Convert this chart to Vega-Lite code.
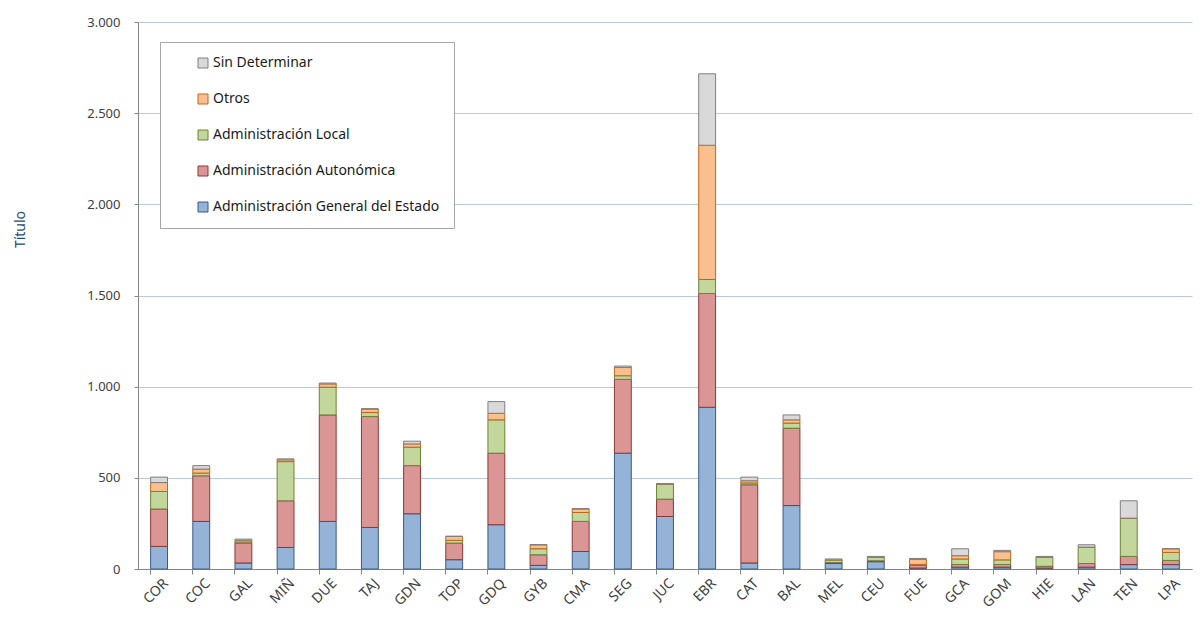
{
  "$schema": "https://vega.github.io/schema/vega-lite/v6.json",
  "autosize": {"type": "none"},
  "padding": {"left": 138, "top": 22, "right": 9, "bottom": 57},
  "width": 1054,
  "height": 547,
  "background": "white",
  "data": {"values": [
    {"c": "COR", "Administración General del Estado": 124, "Administración Autonómica": 205, "Administración Local": 96, "Otros": 49, "Sin Determinar": 30},
    {"c": "COC", "Administración General del Estado": 261, "Administración Autonómica": 250, "Administración Local": 15, "Otros": 22, "Sin Determinar": 19},
    {"c": "GAL", "Administración General del Estado": 33, "Administración Autonómica": 109, "Administración Local": 6, "Otros": 9, "Sin Determinar": 7},
    {"c": "MIÑ", "Administración General del Estado": 118, "Administración Autonómica": 256, "Administración Local": 215, "Otros": 10, "Sin Determinar": 5},
    {"c": "DUE", "Administración General del Estado": 261, "Administración Autonómica": 584, "Administración Local": 152, "Otros": 18, "Sin Determinar": 5},
    {"c": "TAJ", "Administración General del Estado": 228, "Administración Autonómica": 608, "Administración Local": 22, "Otros": 20, "Sin Determinar": 0},
    {"c": "GDN", "Administración General del Estado": 303, "Administración Autonómica": 264, "Administración Local": 101, "Otros": 18, "Sin Determinar": 15},
    {"c": "TOP", "Administración General del Estado": 51, "Administración Autonómica": 91, "Administración Local": 15, "Otros": 22, "Sin Determinar": 0},
    {"c": "GDQ", "Administración General del Estado": 243, "Administración Autonómica": 392, "Administración Local": 183, "Otros": 36, "Sin Determinar": 64},
    {"c": "GYB", "Administración General del Estado": 20, "Administración Autonómica": 58, "Administración Local": 33, "Otros": 22, "Sin Determinar": 0},
    {"c": "CMA", "Administración General del Estado": 96, "Administración Autonómica": 165, "Administración Local": 49, "Otros": 20, "Sin Determinar": 0},
    {"c": "SEG", "Administración General del Estado": 635, "Administración Autonómica": 405, "Administración Local": 20, "Otros": 45, "Sin Determinar": 8},
    {"c": "JUC", "Administración General del Estado": 288, "Administración Autonómica": 95, "Administración Local": 84, "Otros": 0, "Sin Determinar": 0},
    {"c": "EBR", "Administración General del Estado": 887, "Administración Autonómica": 624, "Administración Local": 77, "Otros": 736, "Sin Determinar": 392},
    {"c": "CAT", "Administración General del Estado": 33, "Administración Autonómica": 429, "Administración Local": 10, "Otros": 12, "Sin Determinar": 20},
    {"c": "BAL", "Administración General del Estado": 348, "Administración Autonómica": 424, "Administración Local": 28, "Otros": 18, "Sin Determinar": 27},
    {"c": "MEL", "Administración General del Estado": 30, "Administración Autonómica": 5, "Administración Local": 15, "Otros": 0, "Sin Determinar": 5},
    {"c": "CEU", "Administración General del Estado": 40, "Administración Autonómica": 5, "Administración Local": 20, "Otros": 0, "Sin Determinar": 4},
    {"c": "FUE", "Administración General del Estado": 5, "Administración Autonómica": 15, "Administración Local": 5, "Otros": 28, "Sin Determinar": 5},
    {"c": "GCA", "Administración General del Estado": 10, "Administración Autonómica": 15, "Administración Local": 30, "Otros": 18, "Sin Determinar": 38},
    {"c": "GOM", "Administración General del Estado": 10, "Administración Autonómica": 15, "Administración Local": 25, "Otros": 45, "Sin Determinar": 7},
    {"c": "HIE", "Administración General del Estado": 5, "Administración Autonómica": 10, "Administración Local": 50, "Otros": 0, "Sin Determinar": 4},
    {"c": "LAN", "Administración General del Estado": 10, "Administración Autonómica": 20, "Administración Local": 90, "Otros": 0, "Sin Determinar": 13},
    {"c": "TEN", "Administración General del Estado": 24, "Administración Autonómica": 45, "Administración Local": 210, "Otros": 0, "Sin Determinar": 95},
    {"c": "LPA", "Administración General del Estado": 24, "Administración Autonómica": 23, "Administración Local": 44, "Otros": 20, "Sin Determinar": 0}
  ]},
  "transform": [
    {"fold": ["Administración General del Estado", "Administración Autonómica", "Administración Local", "Otros", "Sin Determinar"], "as": ["tipo", "valor"]},
    {"calculate": "indexof(['Administración General del Estado', 'Administración Autonómica', 'Administración Local', 'Otros', 'Sin Determinar'], datum.tipo)", "as": "orden"}
  ],
  "mark": {"type": "bar", "strokeWidth": 1},
  "encoding": {
    "x": {
      "field": "c", "type": "nominal", "sort": null,
      "scale": {"paddingInner": 0.6, "paddingOuter": 0.3},
      "axis": {
        "title": null, "labelAngle": -45, "labelAlign": "right", "labelBaseline": "middle",
        "labelFontSize": 14, "labelColor": "#404040", "labelFont": "Noto Sans", "labelPadding": 7, "labelOffset": 7,
        "bandPosition": 0, "tickSize": 5, "tickColor": "#868686", "domainColor": "#868686", "grid": false
      }
    },
    "y": {
      "field": "valor", "type": "quantitative", "stack": "zero",
      "scale": {"domain": [0, 3000], "nice": false},
      "axis": {
        "title": "Título", "values": [0, 500, 1000, 1500, 2000, 2500, 3000], "format": ",d",
        "labelFontSize": 13, "labelColor": "#404040", "labelFont": "Noto Sans", "labelPadding": 14,
        "tickSize": 4, "tickColor": "#868686", "domainColor": "#868686",
        "gridColor": "#b9c9dc", "gridWidth": 1,
        "titleColor": "#1f497d", "titleFont": "Noto Sans", "titleFontSize": 14, "titleFontWeight": "normal",
        "titleX": -118, "titleY": 207, "titleAngle": -90, "titleAlign": "center", "titleBaseline": "middle"
      }
    },
    "color": {
      "field": "tipo", "type": "nominal",
      "scale": {
        "domain": ["Sin Determinar", "Otros", "Administración Local", "Administración Autonómica", "Administración General del Estado"],
        "range": ["#d9d9d9", "#fabf8f", "#c3d69b", "#da9694", "#95b3d7"]
      },
      "legend": {
        "title": null, "orient": "none", "legendX": 22, "legendY": 20,
        "fillColor": "white", "strokeColor": "#a6a6a6", "padding": 14,
        "symbolType": "square", "symbolSize": 100, "symbolOffset": 22, "symbolStrokeWidth": 1,
        "labelFontSize": 14, "labelFont": "Noto Sans", "labelColor": "#1a1a1a", "labelOffset": 3, "labelLimit": 500, "rowPadding": 22
      }
    },
    "stroke": {
      "field": "tipo", "type": "nominal",
      "scale": {
        "domain": ["Sin Determinar", "Otros", "Administración Local", "Administración Autonómica", "Administración General del Estado"],
        "range": ["#7f7f7f", "#c0661a", "#6b8436", "#8c3836", "#3a5a85"]
      },
      "legend": null
    },
    "order": {"field": "orden", "type": "quantitative", "sort": "ascending"}
  },
  "config": {
    "locale": {"number": {"decimal": ",", "thousands": ".", "grouping": [3], "currency": ["", " €"]}},
    "view": {"stroke": null}
  }
}
